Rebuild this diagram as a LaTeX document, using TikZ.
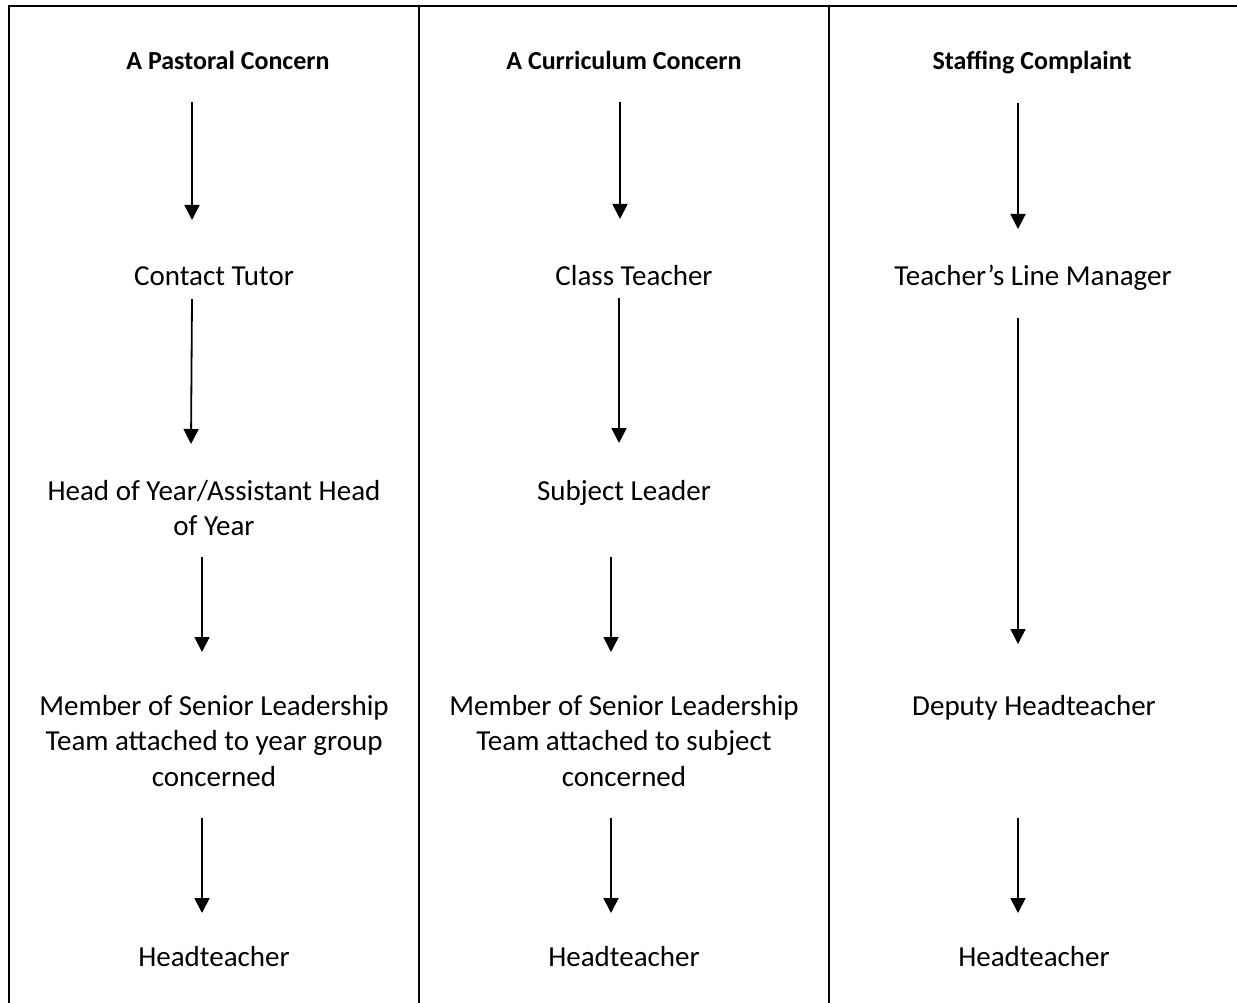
\documentclass[tikz,border=0pt]{standalone}
\usepackage{fontspec}
\setmainfont{Carlito}
\usetikzlibrary{arrows.meta}
\begin{document}
\begin{tikzpicture}[x=1pt,y=-1pt,
  frame/.style={line width=2pt},
  body/.style={anchor=base,inner sep=0pt,align=center,font=\fontsize{29}{35.5}\selectfont},
  head/.style={anchor=base,inner sep=0pt,font=\fontsize{26}{31}\selectfont\bfseries},
  arr/.style={line width=1.8pt,-{Triangle[width=15pt,length=15pt]}}]
\useasboundingbox (0,0) rectangle (1237,1003);
% table frame
\coordinate (tl) at (8,6);
\coordinate (tr) at (1237,6);
\coordinate (bl) at (9,1003);
\coordinate (d1t) at (419,6);
\coordinate (d1b) at (419,1003);
\coordinate (d2t) at (829,6);
\coordinate (d2b) at (829,1003);
\draw[frame] (tl) -- (tr);
\draw[frame] (9,5) -- (bl);
\draw[frame] (d1t) -- (d1b);
\draw[frame] (d2t) -- (d2b);
% column 1 (base anchor of multi-line nodes = last line's baseline)
\node[head] (h1) at (228,69.5) {A Pastoral Concern};
\node[body] (c1r1) at (214,285) {Contact Tutor};
\node[body] (c1r2) at (214,535.5) {Head of Year/Assistant Head\\of Year};
\node[body] (c1r3) at (214,786) {Member of Senior Leadership\\Team attached to year group\\concerned};
\node[body] (c1r4) at (214,966) {Headteacher};
% column 2
\node[head] (h2) at (624,69.5) {A Curriculum Concern};
\node[body] (c2r1) at (634,285) {Class Teacher};
\node[body] (c2r2) at (624,500) {Subject Leader};
\node[body] (c2r3) at (624,786) {Member of Senior Leadership\\Team attached to subject\\concerned};
\node[body] (c2r4) at (624,966) {Headteacher};
% column 3
\node[head] (h3) at (1032,69.5) {Staffing Complaint};
\node[body] (c3r1) at (1033,285) {Teacher’s Line Manager};
\node[body] (c3r3) at (1034,715) {Deputy Headteacher};
\node[body] (c3r4) at (1034,966) {Headteacher};
% arrow coordinates
\coordinate (a11s) at (192,102); \coordinate (a11e) at (192,220);
\coordinate (a12s) at (192,299); \coordinate (a12e) at (191,444);
\coordinate (a13s) at (202,557); \coordinate (a13e) at (202,652);
\coordinate (a14s) at (202,818); \coordinate (a14e) at (202,913);
\coordinate (a21s) at (620,102); \coordinate (a21e) at (620,219);
\coordinate (a22s) at (619,298); \coordinate (a22e) at (619,443);
\coordinate (a23s) at (611,557); \coordinate (a23e) at (611,652);
\coordinate (a24s) at (611,818); \coordinate (a24e) at (611,913);
\coordinate (a31s) at (1018,103); \coordinate (a31e) at (1018,229);
\coordinate (a32s) at (1018,318); \coordinate (a32e) at (1018,644);
\coordinate (a33s) at (1018,818); \coordinate (a33e) at (1018,913);
\foreach \a in {a11,a12,a13,a14,a21,a22,a23,a24,a31,a32,a33}
  \draw[arr] (\a s) -- (\a e);
\end{tikzpicture}
\end{document}
